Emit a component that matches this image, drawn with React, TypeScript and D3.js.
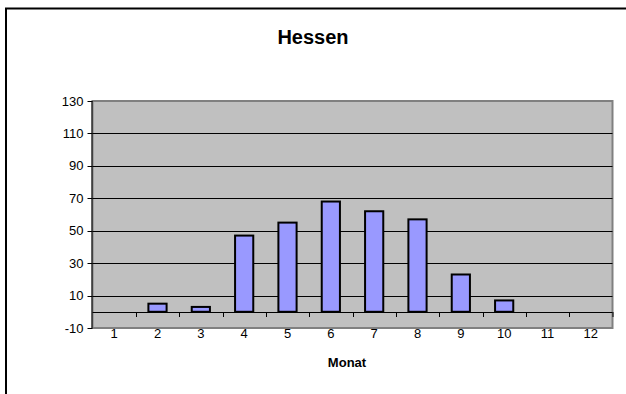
import React from "react";
import * as d3 from "d3";

// Monthly values for Hessen
const months = ["1", "2", "3", "4", "5", "6", "7", "8", "9", "10", "11", "12"];
const values = [0, 5, 3, 47, 55, 68, 62, 57, 23, 7, 0, 0];
const yTicks = [-10, 10, 30, 50, 70, 90, 110, 130];

const W = 626;
const H = 394;
const plot = { left: 92.5, right: 612.5, top: 101, bottom: 328 };
const font = "Arial, 'Liberation Sans', sans-serif";

export default function App() {
  const x = d3
    .scaleBand<string>()
    .domain(months)
    .range([plot.left, plot.right])
    .paddingInner(0.58)
    .paddingOuter(0.29);
  const band = d3.scaleBand<string>().domain(months).range([plot.left, plot.right]);
  const y = d3.scaleLinear().domain([-10, 130]).range([plot.bottom, plot.top]);
  const y0 = y(0);

  return (
    <svg
      width={W}
      height={H}
      style={{ position: "absolute", left: 0, top: 0, display: "block" }}
    >
      <rect x={0} y={0} width={W} height={H} fill="#fff" />
      {/* outer chart frame */}
      <path d={`M6,${H + 5} V8.5 H${W + 5}`} fill="none" stroke="#000" strokeWidth={2} />

      <text
        x={313}
        y={44}
        textAnchor="middle"
        fontFamily={font}
        fontWeight="bold"
        fontSize={20}
      >
        Hessen
      </text>

      {/* plot area */}
      <rect
        x={plot.left}
        y={plot.top}
        width={plot.right - plot.left}
        height={plot.bottom - plot.top}
        fill="#c0c0c0"
        stroke="#808080"
        strokeWidth={2}
      />

      {/* grid lines */}
      {yTicks
        .filter((t) => t > 0 && t < 130)
        .map((t) => (
          <line
            key={t}
            x1={plot.left}
            x2={plot.right}
            y1={Math.round(y(t)) + 0.5}
            y2={Math.round(y(t)) + 0.5}
            stroke="#000"
            strokeWidth={1}
          />
        ))}

      {/* bars */}
      {months.map((m, i) =>
        values[i] > 0 ? (
          <rect
            key={m}
            x={x(m)}
            y={y(values[i])}
            width={x.bandwidth()}
            height={y0 - y(values[i])}
            fill="#9999ff"
            stroke="#000"
            strokeWidth={2}
          />
        ) : null
      )}

      {/* category axis on zero */}
      <line
        x1={plot.left}
        x2={plot.right}
        y1={Math.round(y0) + 0.5}
        y2={Math.round(y0) + 0.5}
        stroke="#000"
        strokeWidth={1}
      />
      {months.slice(1).map((m) => (
        <line
          key={m}
          x1={Math.round(band(m)!) + 0.5}
          x2={Math.round(band(m)!) + 0.5}
          y1={Math.round(y0)}
          y2={Math.round(y0) + 5}
          stroke="#000"
        />
      ))}
      <line
        x1={plot.right + 0.5}
        x2={plot.right + 0.5}
        y1={Math.round(y0)}
        y2={Math.round(y0) + 5}
        stroke="#000"
      />
      {months.map((m) => (
        <text
          key={m}
          x={band(m)! + band.bandwidth() / 2}
          y={338}
          textAnchor="middle"
          fontFamily={font}
          fontSize={13}
        >
          {m}
        </text>
      ))}

      {/* value axis */}
      <line
        x1={plot.left - 0.5}
        x2={plot.left - 0.5}
        y1={plot.top}
        y2={plot.bottom}
        stroke="#000"
      />
      {yTicks.map((t) => (
        <g key={t}>
          <line
            x1={plot.left - 5}
            x2={plot.left}
            y1={Math.round(y(t)) + 0.5}
            y2={Math.round(y(t)) + 0.5}
            stroke="#000"
          />
          <text
            x={83.5}
            y={y(t) + 4.5}
            textAnchor="end"
            fontFamily={font}
            fontSize={13}
          >
            {t}
          </text>
        </g>
      ))}

      <text
        x={347}
        y={367}
        textAnchor="middle"
        fontFamily={font}
        fontWeight="bold"
        fontSize={13}
      >
        Monat
      </text>
    </svg>
  );
}
